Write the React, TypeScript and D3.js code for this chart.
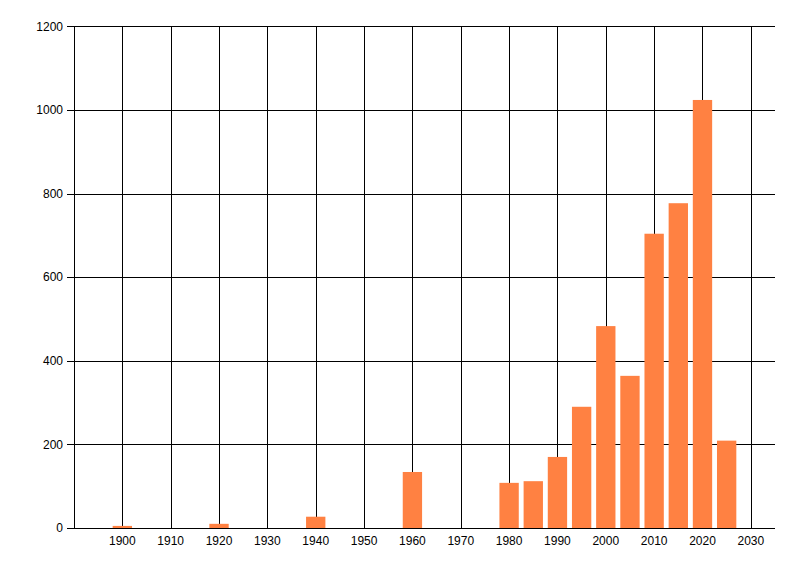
import * as d3 from "d3";
import { useEffect, useRef } from "react";

const years = [1900, 1920, 1940, 1960, 1980, 1985, 1990, 1995, 2000, 2005, 2010, 2015, 2020, 2025];
const counts = [5, 10, 27, 134, 108, 112, 170, 290, 483, 364, 704, 777, 1024, 209];
const xTicks = [1900, 1910, 1920, 1930, 1940, 1950, 1960, 1970, 1980, 1990, 2000, 2010, 2020, 2030];
const yTicks = [0, 200, 400, 600, 800, 1000, 1200];

const width = 800;
const height = 576;

const App = () => {
  const ref = useRef<SVGSVGElement>(null);

  useEffect(() => {
    if (!ref.current) return;
    const svg = d3.select(ref.current);
    svg.selectAll("*").remove();

    const left = 74;
    const right = 775;
    const top = 26.4;
    const bottom = 528;

    const x = d3.scaleLinear().domain([1890, 2035]).range([left, right]);
    const y = d3.scaleLinear().domain([0, 1200]).range([bottom, top]);
    const font = "'Liberation Sans', Arial, sans-serif";

    // horizontal grid
    svg.append("g")
      .selectAll("line")
      .data(yTicks)
      .join("line")
      .attr("x1", left - 7)
      .attr("x2", right)
      .attr("y1", (d) => Math.round(y(d)) + 0.5)
      .attr("y2", (d) => Math.round(y(d)) + 0.5)
      .attr("stroke", "#000")
      .attr("stroke-width", 1);

    // vertical grid
    svg.append("g")
      .selectAll("line")
      .data(xTicks)
      .join("line")
      .attr("x1", (d) => Math.round(x(d)) + 0.5)
      .attr("x2", (d) => Math.round(x(d)) + 0.5)
      .attr("y1", top)
      .attr("y2", bottom)
      .attr("stroke", "#000")
      .attr("stroke-width", 1);

    // bars
    svg.append("g")
      .selectAll("rect")
      .data(years)
      .join("rect")
      .attr("x", (d) => x(d - 2))
      .attr("width", x(4) - x(0))
      .attr("y", (_, i) => y(counts[i]))
      .attr("height", (_, i) => y(0) - y(counts[i]))
      .attr("fill", "#FF8142");

    // y axis line
    svg.append("line")
      .attr("x1", left + 0.5)
      .attr("x2", left + 0.5)
      .attr("y1", top)
      .attr("y2", bottom + 1)
      .attr("stroke", "#000");

    // x axis line
    svg.append("line")
      .attr("x1", left)
      .attr("x2", right)
      .attr("y1", Math.round(bottom) + 0.5)
      .attr("y2", Math.round(bottom) + 0.5)
      .attr("stroke", "#000");

    svg.append("g")
      .selectAll("text")
      .data(yTicks)
      .join("text")
      .attr("x", 63)
      .attr("y", (d) => y(d))
      .attr("dy", "0.35em")
      .attr("text-anchor", "end")
      .attr("font-family", font)
      .attr("font-size", 12)
      .attr("fill", "#000")
      .text((d) => d);

    svg.append("g")
      .selectAll("text")
      .data(xTicks)
      .join("text")
      .attr("x", (d) => x(d))
      .attr("y", 545)
      .attr("text-anchor", "middle")
      .attr("font-family", font)
      .attr("font-size", 12)
      .attr("fill", "#000")
      .text((d) => d);
  }, []);

  return (
    <svg
      ref={ref}
      width={width}
      height={height}
      style={{ position: "absolute", left: 0, top: 0, background: "#fff" }}
    />
  );
};

export default App;
